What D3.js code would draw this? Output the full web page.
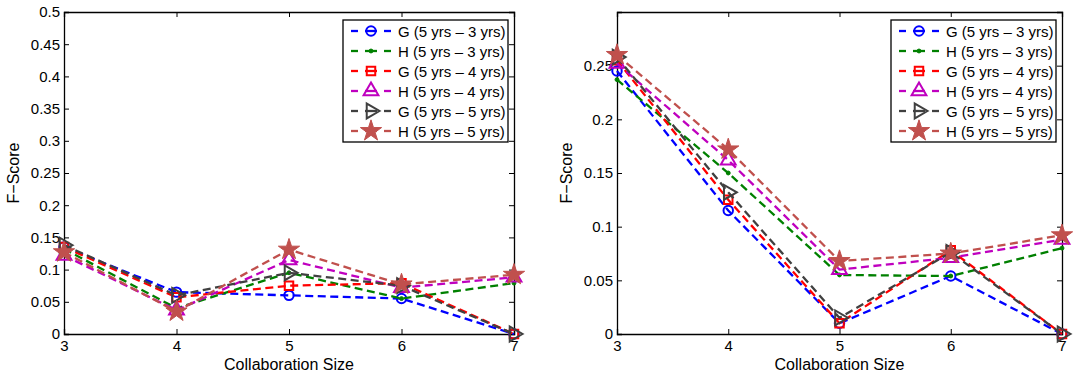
<!DOCTYPE html>
<html>
<head>
<meta charset="utf-8">
<script src="https://cdn.jsdelivr.net/npm/d3@7"></script>
<style>
  body { margin: 0; background: #fff; }
  text { font-family: "Liberation Sans", Arial, sans-serif; fill: #000; }
</style>
</head>
<body>
<svg id="chart" width="1078" height="379"></svg>
<script>
// Daten
const sizes = [3, 4, 5, 6, 7];
const seriesNames = ["G (5 yrs \u2013 3 yrs)", "H (5 yrs \u2013 3 yrs)", "G (5 yrs \u2013 4 yrs)",
                     "H (5 yrs \u2013 4 yrs)", "G (5 yrs \u2013 5 yrs)", "H (5 yrs \u2013 5 yrs)"];

// linkes Diagramm
const leftG3 = [0.135, 0.065, 0.060, 0.055, 0.000];
const leftH3 = [0.132, 0.040, 0.095, 0.055, 0.079];
const leftG4 = [0.135, 0.057, 0.075, 0.079, 0.000];
const leftH4 = [0.122, 0.037, 0.115, 0.072, 0.088];
const leftG5 = [0.138, 0.060, 0.095, 0.075, 0.000];
const leftH5 = [0.127, 0.035, 0.131, 0.077, 0.092];

// rechtes Diagramm
const rightG3 = [0.245, 0.115, 0.010, 0.054, 0.000];
const rightH3 = [0.237, 0.150, 0.055, 0.054, 0.080];
const rightG4 = [0.255, 0.125, 0.010, 0.078, 0.000];
const rightH4 = [0.252, 0.162, 0.060, 0.071, 0.088];
const rightG5 = [0.258, 0.132, 0.015, 0.076, 0.000];
const rightH5 = [0.260, 0.172, 0.068, 0.075, 0.092];

const leftYTicks = [0, 0.05, 0.1, 0.15, 0.2, 0.25, 0.3, 0.35, 0.4, 0.45, 0.5];
const rightYTicks = [0, 0.05, 0.1, 0.15, 0.2, 0.25];

const colors = ["#0000ff", "#008000", "#ff0000", "#bf00bf", "#404040", "#c0504d"];
const markers = ["circle", "dot", "square", "triUp", "triRight", "star"];

const svg = d3.select("#chart");

// Marker-Formen
function markerPath(type) {
  switch (type) {
    case "circle": return d3.symbol(d3.symbolCircle, 70)();
    case "dot": return d3.symbol(d3.symbolCircle, 12)();
    case "square": return d3.symbol(d3.symbolSquare, 72)();
    case "triUp": return d3.symbol(d3.symbolTriangle, 95)();
    case "triRight": return d3.symbol(d3.symbolTriangle, 95)();
    case "star": return d3.symbol(d3.symbolStar, 140)();
  }
}

function drawMarker(g, type, color, x, y) {
  const p = g.append("path")
    .attr("d", markerPath(type))
    .attr("transform", `translate(${x},${y})` + (type === "triRight" ? " rotate(90)" : ""))
    .attr("stroke", color)
    .attr("stroke-width", 2);
  if (type === "dot" || type === "star") p.attr("fill", color).attr("stroke-width", 1);
  else p.attr("fill", "none");
}

function drawPanel(left, right, yMax, yTicks, series) {
  const top = 12, bottom = 334;
  const x = d3.scaleLinear().domain([3, 7]).range([left, right]);
  const y = d3.scaleLinear().domain([0, yMax]).range([bottom, top]);
  const g = svg.append("g");

  // Achsen, Ticks nach innen
  g.append("g").attr("transform", `translate(0,${bottom})`)
    .call(d3.axisBottom(x).tickValues(sizes).tickSize(-5).tickPadding(6).tickFormat(d3.format("d")));
  g.append("g").attr("transform", `translate(0,${top})`)
    .call(d3.axisTop(x).tickValues(sizes).tickSize(-5).tickFormat(""));
  g.append("g").attr("transform", `translate(${left},0)`)
    .call(d3.axisLeft(y).tickValues(yTicks).tickSize(-5).tickPadding(4).tickFormat(d => String(+d.toFixed(2))));
  g.append("g").attr("transform", `translate(${right},0)`)
    .call(d3.axisRight(y).tickValues(yTicks).tickSize(-5).tickFormat(""));
  g.selectAll(".domain").attr("stroke", "#000").attr("stroke-width", 1.3);
  g.selectAll(".tick line").attr("stroke", "#000");
  g.selectAll(".tick text").style("font-size", "15px").attr("fill", "#000");

  // Achsenbeschriftungen
  g.append("text").attr("x", (left + right) / 2).attr("y", 370)
    .attr("text-anchor", "middle").style("font-size", "16px").text("Collaboration Size");
  g.append("text").attr("transform", `translate(${left - 45},${(top + bottom) / 2}) rotate(-90)`)
    .attr("text-anchor", "middle").style("font-size", "16px").text("F\u2212Score");

  // Linien und Marker
  const line = d3.line().x((d, i) => x(sizes[i])).y(d => y(d));
  series.forEach((vals, k) => {
    g.append("path").datum(vals).attr("d", line)
      .attr("fill", "none").attr("stroke", colors[k]).attr("stroke-width", 2.3)
      .attr("stroke-dasharray", "8,4.5");
    vals.forEach((v, i) => drawMarker(g, markers[k], colors[k], x(sizes[i]), y(v)));
  });

  // Legende
  const lw = 165, lh = 122;
  const lx = right - lw - 6, ly = 20;
  const lg = g.append("g").attr("transform", `translate(${lx},${ly})`);
  lg.append("rect").attr("width", lw).attr("height", lh)
    .attr("fill", "#fff").attr("stroke", "#000").attr("stroke-width", 1.3);
  seriesNames.forEach((name, k) => {
    const ry = 11 + k * 20;
    [[8, 15], [22, 34], [41, 48]].forEach(s => {
      lg.append("line").attr("x1", s[0]).attr("x2", s[1]).attr("y1", ry).attr("y2", ry)
        .attr("stroke", colors[k]).attr("stroke-width", 2.3);
    });
    drawMarker(lg, markers[k], colors[k], 28, ry);
    lg.append("text").attr("x", 55).attr("y", ry + 5.5).style("font-size", "15px").text(name);
  });
}

drawPanel(64, 514, 0.5, leftYTicks, [leftG3, leftH3, leftG4, leftH4, leftG5, leftH5]);
drawPanel(617, 1062, 0.3, rightYTicks, [rightG3, rightH3, rightG4, rightH4, rightG5, rightH5]);
</script>
</body>
</html>
